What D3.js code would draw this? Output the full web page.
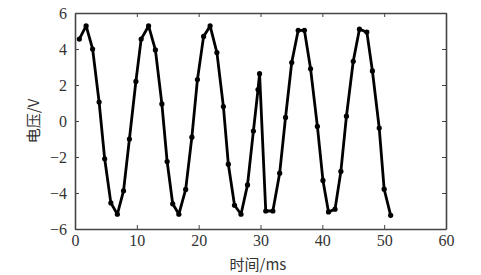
<!DOCTYPE html>
<html>
<head>
<meta charset="utf-8">
<script src="https://cdn.jsdelivr.net/npm/d3@7"></script>
<style>
  body { margin: 0; background: #fff; }
  svg text { fill: #333; }
</style>
</head>
<body>
<script>
const times = [0.7, 1.8, 2.85, 3.9, 4.8, 5.8, 6.85, 7.85, 8.8, 9.85,
  10.7, 11.9, 13.0, 14.05, 14.9, 15.8, 16.8, 17.9, 18.9, 19.8,
  20.8, 21.85, 22.95, 24.0, 24.8, 25.8, 26.85, 27.9, 28.85, 29.6,
  29.85, 30.85, 32.0, 33.1, 34.05, 35.05, 36.1, 37.1, 38.1, 39.2,
  40.1, 41.0, 42.05, 43.0, 43.9, 45.0, 46.0, 47.2, 48.1, 49.2,
  50.0, 51.05]
const volts = [4.55, 5.28, 4.0, 1.05, -2.1, -4.55, -5.18, -3.88, -1.0, 2.2,
  4.55, 5.28, 3.95, 0.95, -2.25, -4.6, -5.18, -3.8, -0.9, 2.3,
  4.7, 5.28, 3.8, 0.8, -2.4, -4.68, -5.18, -3.55, -0.56, 1.75,
  2.63, -5.0, -5.0, -2.9, 0.2, 3.25, 5.04, 5.04, 2.9, -0.3,
  -3.3, -5.05, -4.9, -2.8, 0.27, 3.32, 5.1, 4.94, 2.78, -0.39,
  -3.79, -5.24]
const xTicks = [0, 10, 20, 30, 40, 50, 60]
const yTicks = [-6, -4, -2, 0, 2, 4, 6]

const W = 481, H = 275
const margin = {top: 13, right: 35, bottom: 46, left: 75}
const serif = "'Liberation Serif', 'DejaVu Serif', serif"
const cjk = "'Noto Sans CJK SC', sans-serif"

const svg = d3.select("body").append("svg")
    .attr("width", W)
    .attr("height", H)

const x = d3.scaleLinear().domain([0, 60]).range([margin.left, W - margin.right])
const y = d3.scaleLinear().domain([-6, 6]).range([H - margin.bottom, margin.top])

const data = times.map((t, i) => ({t: t, v: volts[i]}))

// axes, ticks pointing inward on all four sides
svg.append("g")
    .attr("transform", `translate(0,${y(-6)})`)
    .call(d3.axisBottom(x).tickValues(xTicks).tickSizeInner(-4).tickSizeOuter(0).tickPadding(6))
svg.append("g")
    .attr("transform", `translate(0,${y(6)})`)
    .call(d3.axisTop(x).tickValues(xTicks).tickSizeInner(-4).tickSizeOuter(0).tickFormat(""))
svg.append("g")
    .attr("transform", `translate(${x(0)},0)`)
    .call(d3.axisLeft(y).tickValues(yTicks).tickSizeInner(-4).tickSizeOuter(0).tickPadding(8)
        .tickFormat(d => d < 0 ? "\u2212" + Math.abs(d) : d))
svg.append("g")
    .attr("transform", `translate(${x(60)},0)`)
    .call(d3.axisRight(y).tickValues(yTicks).tickSizeInner(-4).tickSizeOuter(0).tickFormat(""))

svg.selectAll(".domain").attr("stroke", "#444").attr("stroke-width", 1.6)
svg.selectAll(".tick line").attr("stroke", "#444")
svg.selectAll(".tick text")
    .attr("fill", "#333")
    .style("font-family", serif)
    .style("font-size", "16px")

// the signal
svg.append("path")
    .datum(data)
    .attr("fill", "none")
    .attr("stroke", "#000")
    .attr("stroke-width", 2.8)
    .attr("stroke-linejoin", "round")
    .attr("d", d3.line().x(d => x(d.t)).y(d => y(d.v)))

svg.selectAll("circle.pt")
    .data(data)
    .join("circle")
    .attr("class", "pt")
    .attr("cx", d => x(d.t))
    .attr("cy", d => y(d.v))
    .attr("r", 2.6)
    .attr("fill", "#000")

// axis titles
svg.append("text")
    .attr("x", 258)
    .attr("y", 270)
    .attr("text-anchor", "middle")
    .style("font-family", cjk)
    .style("font-size", "15px")
    .text("时间/ms")

svg.append("text")
    .attr("transform", `translate(39,${y(0)}) rotate(-90)`)
    .attr("text-anchor", "middle")
    .style("font-family", cjk)
    .style("font-size", "15px")
    .text("电压/V")
</script>
</body>
</html>
